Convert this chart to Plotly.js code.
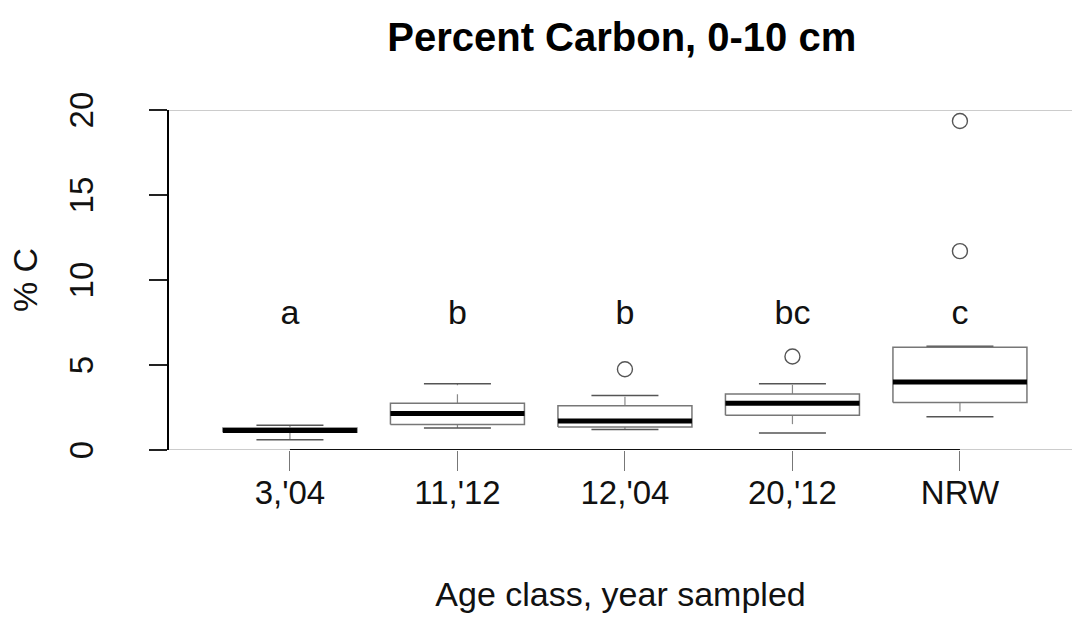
<!DOCTYPE html>
<html>
<head>
<meta charset="utf-8">
<script src="https://cdn.plot.ly/plotly-3.0.1.min.js"></script>
<style>html,body{margin:0;padding:0;background:#fff;}#chart{width:1072px;height:618px;}</style>
</head>
<body>
<div id="chart"></div>
<script>
// ---- data ----
const categories = ["3,'04", "11,'12", "12,'04", "20,'12", "NRW"];
const lowerWhisker = [0.6, 1.3, 1.2, 1.0, 1.95];
const q1Values     = [1.05, 1.5, 1.35, 2.05, 2.8];
const medianValues = [1.15, 2.15, 1.7, 2.75, 4.0];
const q3Values     = [1.3, 2.75, 2.6, 3.3, 6.05];
const upperWhisker = [1.45, 3.9, 3.2, 3.9, 6.1];
const outlierGroup = [2, 3, 4, 4];
const outlierValues = [4.75, 5.5, 19.35, 11.7];
const letterLabels = ["a", "b", "b", "bc", "c"];
const letterHeight = 7.9;
const yTicks = [0, 5, 10, 15, 20];

const FONT = "Liberation Sans, Arial, sans-serif";
const BW = 0.4, SW = 0.2;
const idx = categories.map((_, i) => i);

function seg(builder) {
  const xs = [], ys = [];
  idx.forEach(i => { const r = builder(i); xs.push(...r[0], null); ys.push(...r[1], null); });
  return [xs, ys];
}

const boxes = seg(i => [[i-BW, i+BW, i+BW, i-BW, i-BW], [q1Values[i], q1Values[i], q3Values[i], q3Values[i], q1Values[i]]]);
const whisk = seg(i => [[i, i, null, i, i], [q3Values[i], upperWhisker[i], null, q1Values[i], lowerWhisker[i]]]);
const staples = seg(i => [[i-SW, i+SW, null, i-SW, i+SW], [upperWhisker[i], upperWhisker[i], null, lowerWhisker[i], lowerWhisker[i]]]);
const meds = seg(i => [[i-BW, i+BW], [medianValues[i], medianValues[i]]]);

const traces = [
  {x: whisk[0], y: whisk[1], mode: 'lines', line: {color: '#8a8a8a', width: 1.2, dash: 'dash'}, hoverinfo: 'skip'},
  {x: staples[0], y: staples[1], mode: 'lines', line: {color: '#555', width: 1.5}, hoverinfo: 'skip'},
  {x: boxes[0], y: boxes[1], mode: 'lines', line: {color: '#777', width: 1.5}, hoverinfo: 'skip'},
  {x: meds[0], y: meds[1], mode: 'lines', line: {color: '#000', width: 5}, hoverinfo: 'skip'},
  {x: outlierGroup, y: outlierValues, mode: 'markers',
   marker: {symbol: 'circle-open', size: 15, color: '#555', line: {width: 1.4}}},
  {x: idx, y: idx.map(() => letterHeight), mode: 'text', text: letterLabels,
   textfont: {family: FONT, size: 34, color: '#111'}, textposition: 'middle center'}
];

const layout = {
  width: 1072, height: 618,
  margin: {l: 169, r: 0, t: 110, b: 168},
  paper_bgcolor: '#fff', plot_bgcolor: '#fff',
  showlegend: false,
  font: {family: FONT, color: '#111'},
  title: {text: 'Percent Carbon, 0-10 cm', font: {family: FONT, size: 40, color: '#000', weight: 'bold'},
          x: 0.58, xref: 'container', xanchor: 'center', y: 0.94, yref: 'container', yanchor: 'middle'},
  xaxis: {
    range: [-0.722, 4.669], tickvals: idx, ticktext: categories,
    showgrid: false, zeroline: false, showline: false,
    ticks: 'outside', ticklen: 20, tickcolor: '#777', tickwidth: 1,
    ticklabelstandoff: -7,
    tickfont: {family: FONT, size: 33, color: '#111'},
    title: {text: 'Age class, year sampled', font: {family: FONT, size: 34, color: '#111'}, standoff: 72}
  },
  yaxis: {
    range: [0, 20], tickvals: yTicks, tickangle: -90,
    showgrid: false, zeroline: false, showline: true, linecolor: '#000', linewidth: 2,
    ticks: 'outside', ticklen: 18, tickcolor: '#222', tickwidth: 1.5,
    ticklabelstandoff: 43, ticklabelshift: 5,
    tickfont: {family: FONT, size: 33, color: '#111'},
    title: {text: '% C', font: {family: FONT, size: 34, color: '#111'}, standoff: 15}
  },
  shapes: [
    {type: 'line', xref: 'paper', yref: 'y', x0: 0, x1: 1, y0: 20, y1: 20, line: {color: '#999', width: 1.2}},
    {type: 'line', xref: 'paper', yref: 'y', x0: 0, x1: 1, y0: 0, y1: 0, line: {color: '#999', width: 1.2}},
    {type: 'line', xref: 'x', yref: 'y', x0: 0, x1: categories.length - 1, y0: 0, y1: 0, line: {color: '#111', width: 2.2}}
  ]
};

Plotly.newPlot('chart', traces, layout, {displayModeBar: false, staticPlot: true});
</script>
</body>
</html>
